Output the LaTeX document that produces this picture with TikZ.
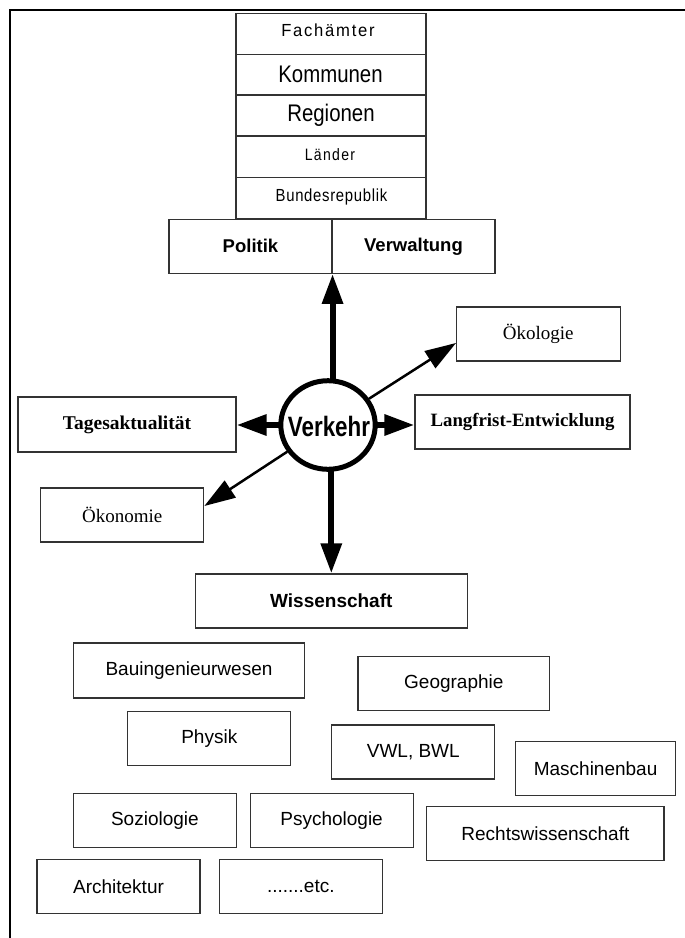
\documentclass[tikz,border=0pt]{standalone}
\usepackage{fontspec}
\setmainfont{Liberation Serif}
\setsansfont{Liberation Sans}
\newfontfamily\condsans[FakeStretch=0.85]{Liberation Sans}
\newfontfamily\semicondsans[FakeStretch=0.95]{Liberation Sans}
\newfontfamily\hubfont[FakeStretch=0.8]{Liberation Sans}
\usetikzlibrary{arrows.meta,shapes.geometric}

\begin{document}
\begin{tikzpicture}[x=1pt,y=-1pt,
  box/.style={draw=black!80, line width=1.1pt, rectangle, inner sep=0pt,
    minimum width=163pt, minimum height=54pt, align=center},
  rowbox/.style={box, minimum width=190pt, minimum height=41pt},
  stacktxt/.style={anchor=base, inner sep=0pt, font=\condsans},
  sanslbl/.style={font=\sffamily\fontsize{19}{22}\selectfont},
  sansbold/.style={font=\sffamily\bfseries\fontsize{18.5}{22}\selectfont},
  seriflbl/.style={font=\rmfamily\fontsize{19}{22}\selectfont},
  serifbold/.style={font=\rmfamily\bfseries\fontsize{19.5}{22}\selectfont},
  bigarrow/.style={line width=6pt, -{Triangle[length=30pt,width=20pt]}},
  thinarrow/.style={line width=2.5pt, -{Triangle[length=31pt,width=20pt]}}
]
\useasboundingbox (0,0) rectangle (685,938);

% frame: top and left edges
\coordinate (fbl) at (9.6,938);
\coordinate (ftl) at (9.6,9.6);
\coordinate (ftr) at (685,9.6);
\draw[line width=2.2pt] (fbl) -- (ftl) -- (ftr);

% levels of administration
\node[rowbox] (fach) at (331,33.8) {};
\node[rowbox] (komm) at (331,74.7) {};
\node[rowbox] (reg)  at (331,115.5) {};
\node[rowbox] (land) at (331,156.7) {};
\node[rowbox] (bund) at (331,197.8) {};
\node[stacktxt, font=\semicondsans] (fachT) at (328,36)
  {\fontsize{17.5}{20}\selectfont\addfontfeatures{LetterSpace=10}Fachämter};
\node[stacktxt] (kommT) at (330.5,82.7) {\fontsize{24}{28}\selectfont Kommunen};
\node[stacktxt] (regT)  at (331,121.5) {\fontsize{24}{28}\selectfont Regionen};
\node[stacktxt] (landT) at (330,160)
  {\fontsize{16.5}{20}\selectfont\addfontfeatures{LetterSpace=8}Länder};
\node[stacktxt] (bundT) at (331.5,201)
  {\fontsize{17.5}{20}\selectfont\addfontfeatures{LetterSpace=4}Bundesrepublik};

% politics / administration
\node[box, sansbold] (pol) at (250.5,246.3) {Politik};
\node[box, sansbold] (verw) at (413.5,246.3) {Verwaltung};

% central hub
\node[ellipse, draw, line width=5pt, fill=white, inner sep=0pt,
  minimum width=94.4pt, minimum height=88.6pt] (V) at (328,425) {};
\node[anchor=base, inner sep=0pt,
  font=\hubfont\bfseries\fontsize{28}{32}\selectfont] (VT) at (329,436) {Verkehr};

% surrounding aspects
\node[box, serifbold, minimum width=218pt, minimum height=55pt] (tages) at (127,424.5) {Tagesaktualität};
\node[box, minimum width=215pt, font=\rmfamily\bfseries\fontsize{18.8}{22}\selectfont] (lang) at (522.5,422) {Langfrist-Entwicklung};
\node[box, seriflbl, minimum width=163.5pt] (oekol) at (538.3,334) {Ökologie};
\node[box, seriflbl] (oekon) at (122.3,515) {Ökonomie};
\node[box, font=\sffamily\bfseries\fontsize{19}{22}\selectfont,
  minimum width=272.5pt] (wiss) at (331.3,601) {Wissenschaft};

% disciplines
\node[box, sanslbl, minimum width=231pt, minimum height=55pt] (bau) at (189,670.5) {Bauingenieurwesen};
\node[box, sanslbl, minimum width=191.6pt] (geo) at (453.8,683.8) {Geographie};
\node[box, sanslbl] (phys) at (209.3,738.3) {Physik};
\node[box, sanslbl] (vwl) at (413.3,752) {VWL, BWL};
\node[box, sanslbl, minimum width=160.3pt] (masch) at (595.6,768.6) {Maschinenbau};
\node[box, sanslbl] (soz) at (154.9,820.3) {Soziologie};
\node[box, sanslbl] (psy) at (331.6,820.3) {Psychologie};
\node[box, sanslbl, minimum width=237.2pt] (recht) at (545.4,833.8) {Rechtswissenschaft};
\node[box, sanslbl] (arch) at (118.5,886.8) {Architektur};
\node[box, sanslbl] (etc) at (300.8,886.8) {.......etc.};

% connectors from the hub
\draw[bigarrow] ([yshift=-3pt]V.north -| pol.south east) -- (pol.south east);
\draw[bigarrow] ([yshift=3pt]V.south -| wiss.north) -- (wiss.north);
\draw[bigarrow] ([xshift=3pt]V.west) -- (V.west -| tages.east);
\draw[bigarrow] ([xshift=-3pt]V.east) -- (V.east -| lang.west);
\draw[thinarrow] (V) -- ([yshift=-9pt]oekol.west);
\draw[thinarrow] (V) -- ([yshift=9pt]oekon.east);
\end{tikzpicture}
\end{document}
